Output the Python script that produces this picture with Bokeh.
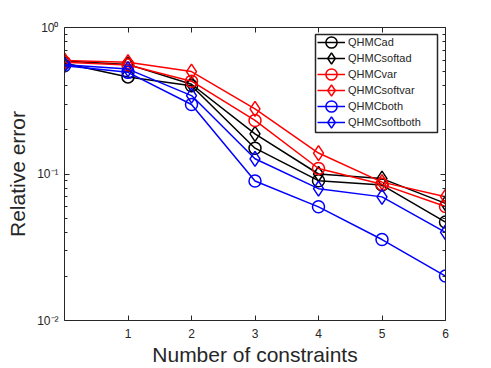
from bokeh.plotting import figure
from bokeh.models import Range1d, FixedTicker, LinearAxis, LogAxis, Legend, BoxAnnotation
from bokeh.embed import file_html
from bokeh.resources import INLINE

x = [0, 1, 2, 3, 4, 5, 6]
qhmc_ad = [0.57, 0.46, 0.40, 0.150, 0.090, 0.084, 0.047]
qhmc_softad = [0.59, 0.56, 0.41, 0.188, 0.100, 0.093, 0.063]
qhmc_var = [0.58, 0.555, 0.43, 0.232, 0.109, 0.085, 0.060]
qhmc_softvar = [0.595, 0.58, 0.50, 0.278, 0.139, 0.088, 0.070]
qhmc_both = [0.548, 0.494, 0.298, 0.0896, 0.0597, 0.0357, 0.0201]
qhmc_softboth = [0.557, 0.52, 0.343, 0.127, 0.0794, 0.0698, 0.040]

series = [
    ("QHMCad", qhmc_ad, "#000000", "circle"),
    ("QHMCsoftad", qhmc_softad, "#000000", "diamond"),
    ("QHMCvar", qhmc_var, "#FF0000", "circle"),
    ("QHMCsoftvar", qhmc_softvar, "#FF0000", "diamond"),
    ("QHMCboth", qhmc_both, "#0000FF", "circle"),
    ("QHMCsoftboth", qhmc_softboth, "#0000FF", "diamond"),
]
x_ticks = [1, 2, 3, 4, 5, 6]
y_ticks = [0.01, 0.1, 1]
y_tick_labels = ["10⁻²", "10⁻¹", "10⁰"]
y_minor = [m * d for d in (0.01, 0.1) for m in range(2, 10)]

FONT = "Liberation Sans"
AX = "#262626"

FRAME_BOTTOM = 321  # canvas px
FRAME_LEFT = 64

p = figure(width=483, height=368, y_axis_type="log", output_backend="svg",
           toolbar_location=None, x_range=Range1d(0, 6), y_range=Range1d(0.01, 1),
           min_border_left=64, min_border_right=38, min_border_top=27, min_border_bottom=47)
p.xgrid.visible = False
p.ygrid.visible = False
p.outline_line_color = None

items = []
for name, ys, col, mk in series:
    r1 = p.line(x, ys, line_color=col, line_width=1.5)
    r2 = p.scatter(x, ys, marker=mk, size=12 if mk == "circle" else 15,
                   line_color=col, fill_color=None, line_width=1.5)
    items.append((name, [r1, r2]))

def style(ax):
    ax.axis_line_color = AX
    ax.axis_line_width = 1
    ax.major_tick_line_color = AX
    ax.minor_tick_line_color = AX
    ax.major_tick_in = 5
    ax.major_tick_out = 0
    ax.minor_tick_in = 3
    ax.minor_tick_out = 0
    ax.major_label_text_font = FONT
    ax.major_label_text_color = AX
    ax.major_label_text_font_size = "12px"

xa = p.xaxis[0]
xa.ticker = FixedTicker(ticks=x_ticks)
style(xa)
xa.major_label_standoff = 8
xa.axis_label = "Number of constraints"
xa.axis_label_text_font = FONT
xa.axis_label_text_font_style = "normal"
xa.axis_label_text_font_size = "21px"
xa.axis_label_text_color = AX
xa.axis_label_standoff = 2

ya = p.yaxis[0]
ya.ticker = FixedTicker(ticks=y_ticks, minor_ticks=y_minor)
style(ya)
ya.major_label_overrides = {t: l for t, l in zip(y_ticks, y_tick_labels)}
ya.major_label_standoff = 6
ya.axis_label = "Relative error"
ya.axis_label_text_font = FONT
ya.axis_label_text_font_style = "normal"
ya.axis_label_text_font_size = "21px"
ya.axis_label_text_color = AX
ya.axis_label_standoff = 5

top = LinearAxis(ticker=FixedTicker(ticks=x_ticks))
style(top)
top.major_label_overrides = {t: "" for t in x_ticks}
top.major_label_standoff = 0
p.add_layout(top, "above")
right = LogAxis(ticker=FixedTicker(ticks=y_ticks, minor_ticks=y_minor))
style(right)
right.major_label_overrides = {t: "" for t in y_ticks}
right.major_label_standoff = 0
p.add_layout(right, "right")

box = BoxAnnotation(left=315, right=437, top=34, bottom=132,
                    left_units="canvas", right_units="canvas",
                    top_units="canvas", bottom_units="canvas",
                    fill_color="white", fill_alpha=1,
                    line_color=AX, line_width=1.5, line_alpha=1)
p.add_layout(box)

GH = 28
for i, it in enumerate(items):
    row_center = 43 + 16 * i
    bottom = row_center + GH / 2
    leg = Legend(items=[it], location=(317 - FRAME_LEFT, FRAME_BOTTOM - bottom))
    leg.margin = 0
    leg.padding = 0
    leg.spacing = 0
    leg.glyph_width = 28
    leg.glyph_height = GH
    leg.label_height = 16
    leg.label_standoff = 3
    leg.label_text_font = FONT
    leg.label_text_font_size = "11px"
    leg.label_text_color = AX
    leg.border_line_color = None
    leg.background_fill_alpha = 0
    p.add_layout(leg, "center")

open("out.html", "w").write(file_html(p, INLINE))
